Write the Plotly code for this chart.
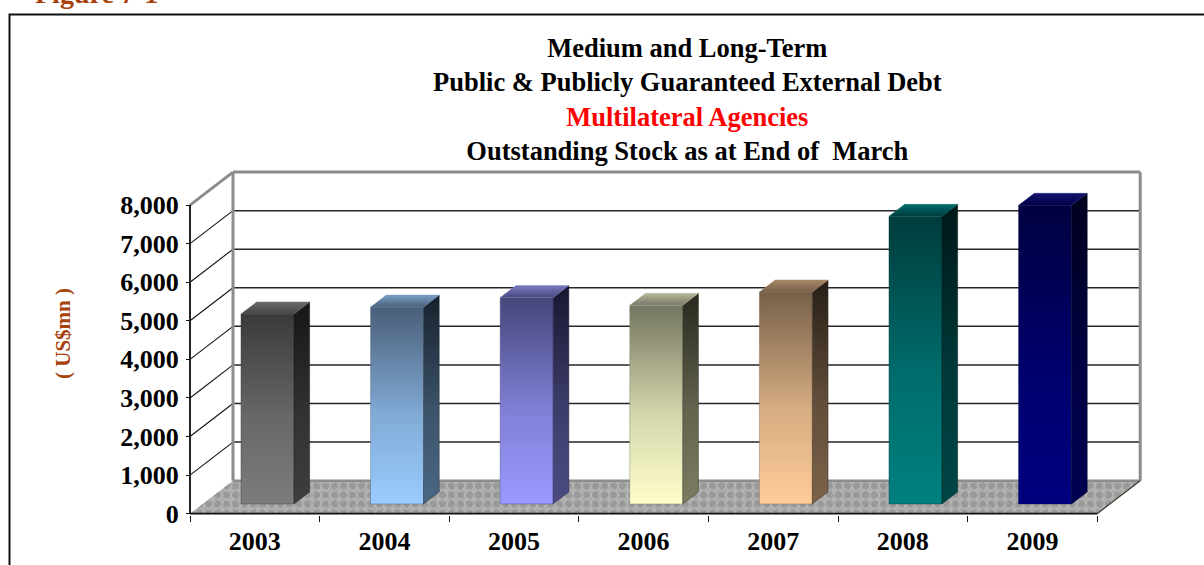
import plotly.graph_objects as go

# Data: outstanding stock (US$ mn) at end of March
years = ["2003", "2004", "2005", "2006", "2007", "2008", "2009"]
stock = [4925, 5105, 5350, 5150, 5495, 7455, 7740]
y_ticks = [0, 1000, 2000, 3000, 4000, 5000, 6000, 7000, 8000]

# Per-bar colours: (front bottom, front top, side bottom, side top, lid front, lid back)
bar_colors = [
    ("#7c7c7c", "#3a3a3a", "#3e3e3e", "#161616", "#444444", "#6a6a6a"),
    ("#99ccff", "#4a5e78", "#4c6884", "#17212c", "#4b6078", "#7aa0c8"),
    ("#9999ff", "#46467a", "#4c4c84", "#171730", "#484880", "#7a7ac0"),
    ("#ffffcc", "#747660", "#7c7c62", "#28281e", "#76786a", "#b8b898"),
    ("#ffcc99", "#76604a", "#7c624a", "#261e16", "#76604a", "#a88868"),
    ("#008080", "#003c3c", "#004646", "#001818", "#003c3c", "#006c6c"),
    ("#000080", "#000040", "#000052", "#00001e", "#000048", "#141470"),
]

# Pseudo-3D projection: depth d in [0, 1] shifts points right and up
DX = 0.3318          # x-units at full depth
DY = 855.6           # value units at full depth
BAR_W = 0.409        # bar width in category units
D0, D1 = 0.295, 0.66 # bar depth span
NCAT = len(years)
YMAX = y_ticks[-1]

# Page geometry used to place axes and annotations (pixels)
PAGE_W = 1204
PAGE_H = 551


def py(p):
    """Paper y for a pixel offset from the top."""
    return 1 - p / PAGE_H


def proj(x, v, d):
    return x + d * DX, v + d * DY


def poly(pts):
    xs, ys = [], []
    for x, v, d in pts + [pts[0]]:
        px_, py_ = proj(x, v, d)
        xs.append(px_)
        ys.append(py_)
    return xs, ys


def seg(p, q):
    a, b = proj(*p), proj(*q)
    return [a[0], b[0]], [a[1], b[1]]


fig = go.Figure()

# Back wall gridlines and the matching side-wall diagonals
for v in y_ticks[1:-1]:
    xs, ys = seg((0, v, 1), (NCAT, v, 1))
    fig.add_trace(go.Scatter(x=xs, y=ys, mode="lines",
                             line=dict(color="#262626", width=1.5), hoverinfo="skip"))
    xs, ys = seg((0, v, 0), (0, v, 1))
    fig.add_trace(go.Scatter(x=xs, y=ys, mode="lines",
                             line=dict(color="#111111", width=1.1), hoverinfo="skip"))

# Back wall frame
for p, q in [((0, 0, 1), (0, YMAX, 1)), ((0, YMAX, 1), (NCAT, YMAX, 1)),
             ((NCAT, YMAX, 1), (NCAT, 0, 1)), ((0, YMAX, 0), (0, YMAX, 1))]:
    xs, ys = seg(p, q)
    fig.add_trace(go.Scatter(x=xs, y=ys, mode="lines",
                             line=dict(color="#8c8c8c", width=3), hoverinfo="skip"))

# Floor with a speckled granite-like fill
floor = [(0, 0, 0), (NCAT, 0, 0), (NCAT, 0, 1), (0, 0, 1)]
fx, fy = poly(floor)
fig.add_trace(go.Scatter(x=fx, y=fy, mode="lines", fill="toself",
                         line=dict(width=0),
                         fillpattern=dict(shape="x", bgcolor="#acacac", fgcolor="#cdd3cd",
                                          size=5, solidity=0.3),
                         hoverinfo="skip"))
fig.add_trace(go.Scatter(x=fx, y=fy, mode="lines", fill="toself",
                         line=dict(width=0),
                         fillpattern=dict(shape=".", bgcolor="rgba(0,0,0,0)", fgcolor="#828282",
                                          size=9, solidity=0.45),
                         hoverinfo="skip"))
xs, ys = seg((0, 0, 1), (NCAT, 0, 1))
fig.add_trace(go.Scatter(x=xs, y=ys, mode="lines",
                         line=dict(color="#8c8c8c", width=2.5), hoverinfo="skip"))
xs, ys = seg((NCAT, 0, 0), (NCAT, 0, 1))
fig.add_trace(go.Scatter(x=xs, y=ys, mode="lines",
                         line=dict(color="#3a3a2a", width=1.2), hoverinfo="skip"))
xs, ys = seg((0, 0, 0), (NCAT, 0, 0))
fig.add_trace(go.Scatter(x=xs, y=ys, mode="lines",
                         line=dict(color="#111111", width=1.6), hoverinfo="skip"))

# Front value axis line
xs, ys = seg((0, 0, 0), (0, YMAX, 0))
fig.add_trace(go.Scatter(x=xs, y=ys, mode="lines",
                         line=dict(color="#222222", width=2), hoverinfo="skip"))


def face(pts, c_bottom, c_top, c_mid=None):
    xs, ys = poly(pts)
    scale = [[0, c_bottom], [1, c_top]]
    if c_mid is not None:
        scale = [[0, c_bottom], [0.45, c_mid], [1, c_top]]
    return go.Scatter(x=xs, y=ys, mode="lines", fill="toself",
                      line=dict(width=0.4, color=c_top),
                      fillgradient=dict(type="vertical", colorscale=scale),
                      hoverinfo="skip")


def mix(c1, c2, t):
    a = [int(c1[i:i + 2], 16) for i in (1, 3, 5)]
    b = [int(c2[i:i + 2], 16) for i in (1, 3, 5)]
    return "#" + "".join(f"{round(a[k] + (b[k] - a[k]) * t):02x}" for k in range(3))


# Bars
for i, (v, cols) in enumerate(zip(stock, bar_colors)):
    fb, ft, sb, st, lf, lb = cols
    xl, xr = i + 0.5 - BAR_W / 2, i + 0.5 + BAR_W / 2
    front = [(xl, 0, D0), (xr, 0, D0), (xr, v, D0), (xl, v, D0)]
    side = [(xr, 0, D0), (xr, 0, D1), (xr, v, D1), (xr, v, D0)]
    lid = [(xl, v, D0), (xr, v, D0), (xr, v, D1), (xl, v, D1)]
    fig.add_trace(face(front, fb, ft, mix(fb, ft, 0.3)))
    fig.add_trace(face(side, sb, st, mix(sb, st, 0.3)))
    fig.add_trace(face(lid, lf, lb))

font_family = "Liberation Serif, Times New Roman, serif"

fig.update_layout(
    width=1204, height=565,
    margin=dict(l=0, r=0, t=0, b=0),
    paper_bgcolor="white", plot_bgcolor="rgba(0,0,0,0)",
    showlegend=False,
    xaxis=dict(
        domain=[177.04 / PAGE_W, 1149.04 / PAGE_W], range=[-0.1, 7.4],
        tickvals=[i + 0.5 for i in range(NCAT)], ticktext=years,
        ticks="", showgrid=False, zeroline=False, showline=False,
        tickfont=dict(family=font_family, size=26, color="black", weight="bold"),
        ticklabelstandoff=8,
        minor=dict(tickvals=list(range(NCAT + 1)), ticks="outside", ticklen=6,
                   tickcolor="#111111", tickwidth=1.2, showgrid=False),
    ),
    yaxis=dict(
        domain=[py(515.2), py(166.5)], range=[-40, 9000],
        anchor="free", position=190 / PAGE_W,
        tickvals=y_ticks, tickformat=",d",
        ticks="outside", ticklen=4, tickcolor="#111111", tickwidth=1.2,
        showgrid=False, zeroline=False, showline=False,
        tickfont=dict(family=font_family, size=26, color="black", weight="bold"),
        ticklabelstandoff=2,
    ),
    annotations=[
        dict(xref="paper", yref="paper", x=687 / PAGE_W, y=py(99.5),
             xanchor="center", yanchor="middle", showarrow=False, align="center",
             text="Medium and Long-Term<br>Public & Publicly Guaranteed External Debt<br>"
                  "<span style='color:#ff0000'>Multilateral Agencies</span><br>"
                  "Outstanding Stock as at End of\u00a0 March",
             font=dict(family=font_family, size=26.5, color="black", weight="bold")),
        dict(xref="paper", yref="paper", x=63 / PAGE_W, y=py(334),
             xanchor="center", yanchor="middle", showarrow=False, textangle=-90,
             text="( US$mn )",
             font=dict(family=font_family, size=21, color="#a8420c", weight="bold")),
        dict(xref="paper", yref="paper", x=33 / PAGE_W, y=py(11),
             xanchor="left", yanchor="bottom", showarrow=False,
             text="Figure 7-1",
             font=dict(family=font_family, size=28, color="#a8420c", weight="bold")),
    ],
    shapes=[
        dict(type="rect", xref="paper", yref="paper",
             x0=9.5 / PAGE_W, x1=1.02, y0=-0.06, y1=py(14.5),
             line=dict(color="#111111", width=2), fillcolor="rgba(0,0,0,0)",
             layer="below"),
    ],
)

fig.write_html("out.html")
